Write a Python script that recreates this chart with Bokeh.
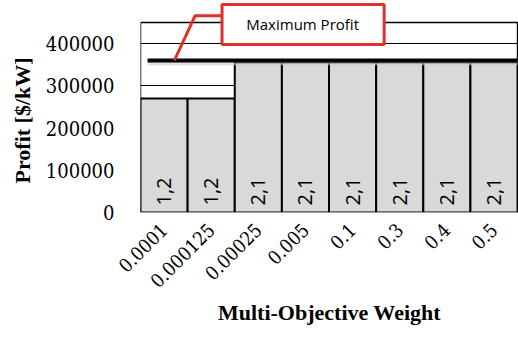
import math
from bokeh.plotting import figure
from bokeh.models import Range1d, FixedTicker, Title, BasicTickFormatter
from bokeh.core.properties import value
from bokeh.embed import file_html
from bokeh.resources import INLINE

weights = ["0.0001", "0.000125", "0.00025", "0.005", "0.1", "0.3", "0.4", "0.5"]
profit = [270000, 270000, 355000, 355000, 355000, 355000, 355000, 355000]
order = ["1,2", "1,2", "2,1", "2,1", "2,1", "2,1", "2,1", "2,1"]
max_profit = 360000
y_ticks = [0, 100000, 200000, 300000, 400000]
y_top = 450000

xs = list(range(len(weights)))
SERIF_BOLD = "Times New Roman"
SERIF = "DejaVu Serif Condensed"

p = figure(width=518, height=338, x_range=Range1d(-0.5, 7.52), y_range=Range1d(0, 502000),
           output_backend="svg", toolbar_location=None, title=None,
           min_border_left=138, min_border_right=0, min_border_top=0, min_border_bottom=126)
p.outline_line_color = None
p.xgrid.visible = False
p.ygrid.ticker = FixedTicker(ticks=y_ticks)
p.ygrid.grid_line_color = "black"
p.ygrid.grid_line_width = 1

# plot-area frame
p.line([-0.5, -0.5, 7.5, 7.5], [0, y_top, y_top, 0], line_color="black", line_width=1.5)

p.vbar(x=xs, top=profit, width=1, fill_color="#d9d9d9", line_color="black", line_width=2)

p.text(x=xs, y=[0] * len(xs), text=order, angle=math.pi / 2, text_align="left",
       text_baseline="middle", y_offset=-7, x_offset=0,
       text_font=value("Open Sans"), text_font_size="20px", text_color="black")

# maximum profit line
p.line([-0.35, 7.5], [max_profit - 4000] * 2, line_color="#cccccc", line_width=6, line_alpha=0.6)
p.line([-0.35, 7.5], [max_profit, max_profit], line_color="black", line_width=4)

# callout
red = "#e0302a"
p.quad(left=[1.23], right=[4.67], bottom=[397800], top=[492500], fill_color="white",
       line_color=red, line_width=3)
p.line([0.22, 0.66, 1.23], [max_profit, 466000, 466000], line_color=red, line_width=3)
p.text(x=[2.94], y=[446000], text=["Maximum Profit"], text_align="center", text_baseline="middle",
       text_font=value("Open Sans"), text_font_size="15px", text_color="black")

# axes
p.yaxis.ticker = FixedTicker(ticks=y_ticks)
p.yaxis.formatter = BasicTickFormatter(use_scientific=False)
p.yaxis.axis_line_color = None
p.yaxis.major_tick_line_color = None
p.yaxis.minor_tick_line_color = None
p.yaxis.major_label_standoff = 20
p.yaxis.major_label_text_font = SERIF
p.yaxis.major_label_text_font_size = "20px"
p.yaxis.major_label_text_color = "black"

p.xaxis.ticker = FixedTicker(ticks=xs)
p.xaxis.major_label_overrides = {i: w for i, w in zip(xs, weights)}
p.xaxis.major_label_orientation = math.pi / 4
p.xaxis.axis_line_color = "#a0a0a0"
p.xaxis.major_tick_line_color = None
p.xaxis.minor_tick_line_color = None
p.xaxis.major_label_text_font = SERIF
p.xaxis.major_label_text_font_size = "19px"
p.xaxis.major_label_text_color = "black"
p.xaxis.major_label_standoff = 8
p.xaxis.axis_label = "Multi-Objective Weight"
p.xaxis.axis_label_text_font = SERIF_BOLD
p.xaxis.axis_label_text_font_style = "bold"
p.xaxis.axis_label_text_font_size = "22px"
p.xaxis.axis_label_text_color = "black"
p.xaxis.axis_label_standoff = 3

p.add_layout(Title(text="Profit [$/kW]", align="left", offset=29, standoff=15,
                   text_font=SERIF_BOLD, text_font_style="bold", text_font_size="22px",
                   text_color="black"), "left")

open("out.html", "w").write(file_html(p, INLINE))
